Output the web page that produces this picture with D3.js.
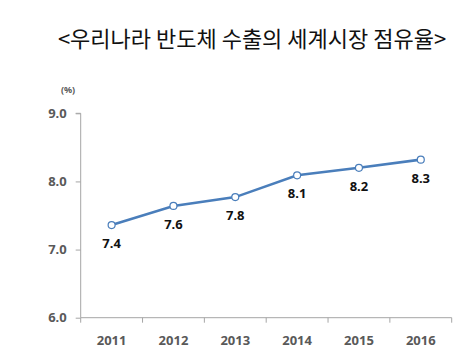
<!DOCTYPE html>
<html><head><meta charset="utf-8">
<script src="https://cdn.jsdelivr.net/npm/d3@7"></script>
<style>body{margin:0;background:#fff;} svg{display:block;}</style>
</head><body>
<svg id="c" width="464" height="355"></svg>
<script>
const title = "<우리나라 반도체 수출의 세계시장 점유율>";
const unitLabel = "(%)";
const years = ["2011","2012","2013","2014","2015","2016"];
const values = [7.36, 7.64, 7.77, 8.09, 8.20, 8.32];
const valueLabels = ["7.4","7.6","7.8","8.1","8.2","8.3"];
const yTicks = [6, 7, 8, 9];

const svg = d3.select("#c");
const x = d3.scaleBand().domain(years).range([80.7, 451.7]);
const y = d3.scaleLinear().domain([6, 9]).range([317.7, 113.3]);
const axisColor = "#a6a6a6";
const textColor = "#595959";
const font = "'Noto Sans', 'DejaVu Sans', sans-serif";

svg.append("text").attr("x", 252).attr("y", 46.5).attr("text-anchor", "middle")
  .attr("font-family", "'Noto Sans CJK KR', sans-serif").attr("font-size", 22)
  .attr("fill", "#111").text(title);

svg.append("text").attr("x", 68).attr("y", 93).attr("text-anchor", "middle")
  .attr("font-family", font).attr("font-size", 9).attr("font-weight", "bold")
  .attr("fill", textColor).text(unitLabel);

// y axis
const yAxis = svg.append("g").attr("transform", "translate(80.7,0)")
  .call(d3.axisLeft(y).tickValues(yTicks).tickFormat(d3.format(".1f")).tickSize(5).tickPadding(9));
yAxis.select(".domain").attr("stroke", axisColor).attr("d", `M-5,${y(9)}H0V${y(6)}`);
yAxis.selectAll(".tick line").attr("stroke", axisColor);
yAxis.selectAll("text").attr("font-family", font).attr("font-size", 13)
  .attr("font-weight", "bold").attr("fill", textColor);

// x axis
const xAxis = svg.append("g").attr("transform", `translate(0,${y(6)})`)
  .call(d3.axisBottom(x).tickSize(0).tickPadding(18));
xAxis.select(".domain").attr("stroke", axisColor).attr("d", `M${x.range()[0]},0H${x.range()[1]}`);
xAxis.selectAll("text").attr("font-family", font).attr("font-size", 13)
  .attr("font-weight", "bold").attr("fill", textColor);
// category boundary ticks
const bounds = years.map(d => x(d)).concat([x.range()[1]]);
xAxis.selectAll("line.bt").data(bounds).enter().append("line").attr("class", "bt")
  .attr("x1", d => d).attr("x2", d => d).attr("y1", 0).attr("y2", 5).attr("stroke", axisColor);

const cx = d => x(d) + x.bandwidth() / 2;
const line = d3.line().x((d, i) => cx(years[i])).y(d => y(d));
svg.append("path").datum(values).attr("d", line).attr("fill", "none")
  .attr("stroke", "#4a7ebb").attr("stroke-width", 2.6);

svg.selectAll("circle.pt").data(values).enter().append("circle").attr("class", "pt")
  .attr("cx", (d, i) => cx(years[i])).attr("cy", d => y(d)).attr("r", 3.5)
  .attr("fill", "#fff").attr("stroke", "#4a7ebb").attr("stroke-width", 1.2);

svg.selectAll("text.lbl").data(values).enter().append("text").attr("class", "lbl")
  .attr("x", (d, i) => cx(years[i])).attr("y", d => y(d) + 23).attr("text-anchor", "middle")
  .attr("font-family", font).attr("font-size", 13).attr("font-weight", "bold")
  .attr("fill", "#111").text((d, i) => valueLabels[i]);
</script>
</body></html>
